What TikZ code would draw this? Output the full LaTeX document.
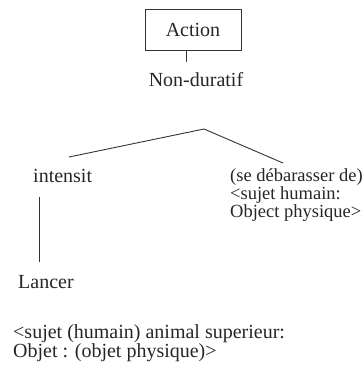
\documentclass[tikz,border=0pt]{standalone}
\usepackage{fontspec}
\setmainfont{Liberation Serif}
\begin{document}
\begin{tikzpicture}[x=1pt,y=-1pt,
  lbl/.style={inner sep=0pt, font=\fontsize{20}{19}\selectfont, text=black!85},
  small/.style={font=\fontsize{18.5}{18}\selectfont},
  ln/.style={draw=black!80, line width=0.9pt}]
\useasboundingbox (0,0) rectangle (363,384);
\node[lbl, draw=black!80, line width=0.9pt, minimum width=96pt, minimum height=41pt] (action) at (193,29.5) {Action};
\node[lbl] (nondur) at (196,80) {Non-duratif};
\coordinate (apex) at (204,129);
\coordinate (lend) at (69,157);
\coordinate (rend) at (283,163);
\node[lbl, anchor=west] (intensit) at (33,176) {intensit};
\node[lbl, small, anchor=north west, align=left] (sedeb) at (230,168) {(se débarasser de)\\<sujet humain:\\Object physique>};
\coordinate (vtop) at (39,197);
\coordinate (vbot) at (39,262);
\node[lbl, anchor=west] (lancer) at (18,282) {Lancer};
\node[lbl, anchor=north west, align=left] (bottom) at (13,324) {<sujet (humain) animal superieur:\\Objet : (objet physique)>};
\draw[ln] (action.south -| 186,0) -- (186,62);
\draw[ln] (lend) -- (apex) -- (rend);
\draw[ln] (vtop) -- (vbot);
\end{tikzpicture}
\end{document}
